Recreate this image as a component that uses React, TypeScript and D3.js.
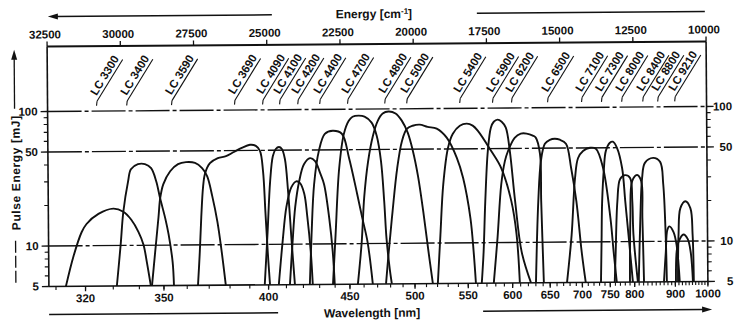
import React from "react";
import * as d3 from "d3";

// Axis ticks
const energyTicks = [32500, 30000, 27500, 25000, 22500, 20000, 17500, 15000, 12500, 10000];
const wavelengthLabels = [320, 350, 400, 450, 500, 550, 600, 650, 700, 750, 800, 900, 1000];
const wavelengthMinor = d3.range(310, 1001, 10);
const pulseLabels = [5, 10, 50, 100];
const pulseMinor = [6, 7, 8, 9, 20, 30, 40, 60, 70, 80, 90];
const gridLevels = [10, 50, 100];

// Dye names and the wavenumber (cm^-1) where each name sits
const dyeNames = [
  "LC 3300", "LC 3400", "LC 3590", "LC 3690", "LC 4090", "LC 4100", "LC 4200",
  "LC 4400", "LC 4700", "LC 4800", "LC 5000", "LC 5400", "LC 5900", "LC 6200",
  "LC 6500", "LC 7100", "LC 7300", "LC 8000", "LC 8400", "LC 8800", "LC 9210",
];
const dyeLabelWavenumbers = [
  30830, 29800, 28270, 26120, 25160, 24580, 23960, 23210, 22260, 20990, 20240,
  18430, 17310, 16660, 15430, 14270, 13590, 12900, 12180, 11670, 11090,
];

// Tuning curves: [wavenumber cm^-1, pulse energy mJ]
const lc3300 = [[31920, 5], [31650, 8.4], [31370, 12.6], [31200, 14.5], [30790, 17.2], [30280, 18.8], [29940, 17.8], [29670, 15.5], [29430, 12.6], [29260, 10.1], [29150, 7.5], [29020, 5]];
const lc3400 = [[30180, 5], [30040, 10.1], [29940, 17.8], [29770, 29.9], [29670, 36.8], [29430, 40.1], [29190, 40.1], [28980, 37.4], [28810, 29.9], [28680, 22.3], [28510, 15.8], [28400, 12.0], [28270, 7.5], [28230, 5]];
const lc3590 = [[28980, 5], [28880, 8.2], [28740, 16.2], [28680, 22.2], [28570, 28.3], [28330, 35.4], [28060, 39.9], [27790, 41.3], [27480, 40.7], [27240, 37.2], [27070, 32.4], [26900, 23.0], [26730, 14.8], [26590, 8.8], [26460, 5]];
const lc3690 = [[27410, 5], [27340, 8.8], [27280, 16.1], [27210, 27.1], [27140, 33.9], [26970, 40.4], [26700, 44.0], [26420, 45.5], [26150, 48.8], [25880, 52.3], [25600, 55.1], [25400, 54.1], [25260, 49.6], [25160, 35.1], [25090, 17.6], [25020, 8.8], [24950, 5]];
const lc4090 = [[25130, 5], [25020, 12.3], [24920, 29.4], [24820, 45.3], [24720, 51.1], [24610, 52.9], [24510, 51.1], [24410, 43.0], [24310, 24.7], [24200, 10.4], [24100, 5]];
const lc4100 = [[24650, 5], [24510, 10.4], [24370, 19.0], [24200, 26.4], [24030, 29.3], [23900, 28.4], [23760, 23.8], [23660, 16.0], [23550, 8.7], [23490, 5]];
const lc4200 = [[24270, 5], [24170, 10.3], [24070, 18.9], [23930, 29.2], [23760, 39.2], [23550, 43.5], [23380, 41.3], [23210, 33.6], [23080, 27.8], [22910, 15.4], [22800, 8.7], [22740, 5]];
const lc4400 = [[23590, 5], [23520, 11.6], [23420, 27.7], [23250, 49.0], [23040, 65.8], [22770, 69.3], [22460, 65.8], [22220, 43.4], [21950, 23.3], [21780, 15.4], [21610, 10.3], [21440, 5]];
const lc4700 = [[22800, 5], [22700, 11.6], [22560, 36.3], [22390, 65.6], [22220, 82.0], [22090, 87.9], [21880, 89.5], [21680, 87.9], [21440, 79.3], [21270, 63.3], [21130, 41.0], [21030, 20.5], [20960, 10.8], [20860, 6.5], [20790, 5]];
const lc4800 = [[21950, 5], [21810, 10.2], [21710, 22.4], [21570, 40.9], [21400, 63.1], [21230, 81.7], [21060, 92.4], [20860, 95.6], [20620, 92.4], [20410, 81.7], [20210, 66.4], [20040, 48.7], [19870, 31.5], [19700, 17.2], [19530, 8.6], [19390, 5]];
const lc5000 = [[20990, 5], [20890, 8.6], [20750, 17.1], [20580, 36.0], [20410, 57.5], [20240, 70.9], [20040, 74.7], [19800, 76.1], [19530, 73.2], [19220, 70.9], [18880, 60.7], [18540, 42.9], [18330, 30.3], [18090, 15.2], [17990, 8.6], [17920, 5]];
const lc5400 = [[19220, 5], [19120, 11.5], [19010, 27.3], [18840, 50.8], [18670, 64.8], [18430, 74.3], [18190, 76.9], [17990, 74.3], [17820, 68.1], [17370, 48.2], [17030, 35.9], [16690, 20.3], [16520, 11.5], [16420, 5]];
const lc5900 = [[17720, 5], [17650, 8.5], [17580, 20.2], [17480, 48.0], [17370, 71.5], [17270, 79.2], [17140, 82.1], [17000, 79.2], [16860, 71.5], [16730, 48.0], [16560, 20.2], [16350, 8.5], [16040, 5]];
const lc6200 = [[17310, 5], [17170, 10.9], [17030, 27.1], [16900, 40.3], [16790, 47.9], [16560, 60.0], [16350, 64.4], [16150, 64.4], [15940, 62.1], [15840, 60.0], [15700, 45.5], [15670, 20.1], [15600, 5]];
const lc6500 = [[15870, 5], [15770, 20.1], [15670, 40.1], [15530, 53.9], [15360, 57.7], [15190, 58.7], [15020, 57.7], [14810, 53.9], [14640, 35.5], [14470, 20.1], [14300, 8.4], [14170, 5]];
const lc7100 = [[14810, 5], [14640, 11.3], [14510, 29.8], [14400, 42.1], [14230, 47.5], [13990, 50.1], [13790, 49.2], [13550, 35.4], [13310, 14.9], [13210, 8.4], [13110, 5]];
const lc7300 = [[13650, 5], [13620, 10.0], [13590, 19.9], [13520, 35.3], [13450, 47.4], [13310, 54.5], [13210, 55.4], [13070, 49.9], [12900, 35.3], [12800, 19.9], [12700, 11.3], [12560, 5]];
const lc8000a = [[13180, 5], [13140, 8.4], [13070, 19.9], [12970, 29.2], [12800, 31.2], [12630, 29.7], [12560, 19.9], [12530, 11.3], [12390, 5]];
const lc8000b = [[12660, 5], [12630, 14.9], [12560, 28.1], [12390, 31.2], [12250, 28.1], [12220, 14.9], [12180, 5]];
const lc8400 = [[12360, 5], [12290, 14.8], [12220, 29.6], [12120, 38.4], [11840, 41.8], [11600, 39.0], [11500, 26.7], [11430, 11.2], [11400, 5]];
const lc8800a = [[11500, 5], [11430, 8.3], [11370, 12.2], [11300, 12.9], [11160, 11.7], [11060, 9.4], [10960, 5]];
const lc8800b = [[11090, 5], [11060, 8.3], [10990, 9.9], [10820, 11.2], [10680, 10.4], [10580, 8.3], [10510, 5]];
const lc9210 = [[11020, 5], [10990, 11.2], [10920, 17.6], [10750, 19.8], [10580, 17.6], [10510, 11.2], [10480, 5]];

const tuningCurves = [
  lc3300, lc3400, lc3590, lc3690, lc4090, lc4100, lc4200, lc4400, lc4700, lc4800,
  lc5000, lc5400, lc5900, lc6200, lc6500, lc7100, lc7300, lc8000a, lc8000b, lc8400,
  lc8800a, lc8800b, lc9210,
];

const W = 735;
const H = 324;
const X0 = 48;
const X1 = 707;
const YTOP = 44;
const YBOT = 284;
const Y100 = 109;
const FONT = "'Liberation Sans', Arial, Helvetica, sans-serif";
const INK = "#111";

const x = d3.scaleLinear().domain([32500, 10000]).range([X0, X1]);
const y = d3.scaleLog().domain([5, 100]).range([YBOT, Y100]);
const xNm = (nm: number) => x(1e7 / nm);

const line = d3
  .line<number[]>()
  .x((d) => x(d[0]))
  .y((d) => y(d[1]))
  .curve(d3.curveCatmullRom.alpha(0.5));

const LABEL_ANGLE = -58;
const LABEL_Y = 94;
const LABEL_LEN = 45;

function DyeLabel({ name, wn }: { name: string; wn: number }) {
  const ax = x(wn);
  const a = (LABEL_ANGLE * Math.PI) / 180;
  const c = Math.cos(a);
  const s = Math.sin(a);
  // underline start in screen coordinates (local -4, 3)
  const lx = -4, ly = 3.2;
  const sx = ax + lx * c - ly * s;
  const sy = LABEL_Y + lx * s + ly * c;
  return (
    <g>
      <g transform={`translate(${ax},${LABEL_Y}) rotate(${LABEL_ANGLE})`}>
        <text
          x={0}
          y={0}
          fontFamily={FONT}
          fontWeight={700}
          fontSize={11.5}
          fill={INK}
        >
          {name}
        </text>
        <line x1={lx} y1={ly} x2={LABEL_LEN} y2={ly} stroke={INK} strokeWidth={1.1} />
      </g>
      <line x1={sx} y1={sy} x2={sx - 0.5} y2={sy + 4.5} stroke={INK} strokeWidth={1.1} />
    </g>
  );
}

export default function App() {
  const labelStyle = { fontFamily: FONT, fontWeight: 700, fill: INK } as const;
  return (
    <svg
      width={W}
      height={H}
      viewBox={`0 0 ${W} ${H}`}
      style={{ position: "absolute", left: 0, top: 0, background: "#fff" }}
    >
      <defs>
        <clipPath id="plot-area">
          <rect x={X0} y={YTOP} width={X1 - X0} height={YBOT - YTOP} />
        </clipPath>
      </defs>
      <rect width={W} height={H} fill="#fff" />
      <g transform="rotate(-0.435 377 165)">
        {/* grid lines */}
        {gridLevels.map((v) => (
          <line
            key={`g${v}`}
            x1={X0}
            x2={X1}
            y1={y(v)}
            y2={y(v)}
            stroke={INK}
            strokeWidth={1.4}
            strokeDasharray="34 3 4 3"
          />
        ))}

        {/* frame */}
        <line x1={X0} x2={X1} y1={YTOP} y2={YTOP} stroke={INK} strokeWidth={2} />
        <line x1={X0} x2={X1} y1={YBOT} y2={YBOT} stroke={INK} strokeWidth={1.6} />
        <line x1={X0} x2={X0} y1={YTOP} y2={YBOT} stroke={INK} strokeWidth={1.6} />
        <line x1={X1} x2={X1} y1={YTOP} y2={YBOT} stroke={INK} strokeWidth={1.6} />

        {/* top energy axis */}
        {energyTicks.map((e) => (
          <g key={`e${e}`}>
            <line x1={x(e)} x2={x(e)} y1={YTOP} y2={YTOP - 5} stroke={INK} strokeWidth={1.3} />
            <text x={x(e) - 2} y={YTOP - 8} textAnchor="middle" fontSize={11.5} {...labelStyle}>
              {e}
            </text>
          </g>
        ))}

        {/* bottom wavelength axis */}
        {wavelengthMinor.map((nm) => (
          <line key={`m${nm}`} x1={xNm(nm)} x2={xNm(nm)} y1={YBOT} y2={YBOT + 3.5} stroke={INK} strokeWidth={1.1} />
        ))}
        {wavelengthLabels.map((nm) => (
          <g key={`w${nm}`}>
            <line x1={xNm(nm)} x2={xNm(nm)} y1={YBOT} y2={YBOT + 5} stroke={INK} strokeWidth={1.3} />
            <text x={xNm(nm)} y={YBOT + 16} textAnchor="middle" fontSize={11.5} {...labelStyle}>
              {nm}
            </text>
          </g>
        ))}

        {/* left and right pulse energy axes */}
        {pulseMinor.map((v) => (
          <g key={`p${v}`}>
            <line x1={X0 - 4} x2={X0} y1={y(v)} y2={y(v)} stroke={INK} strokeWidth={1.1} />
            <line x1={X1} x2={X1 + 4} y1={y(v)} y2={y(v)} stroke={INK} strokeWidth={1.1} />
          </g>
        ))}
        {pulseLabels.map((v) => (
          <g key={`P${v}`}>
            <line x1={X0 - 7} x2={X0} y1={y(v)} y2={y(v)} stroke={INK} strokeWidth={1.3} />
            <line x1={X1} x2={X1 + 7} y1={y(v)} y2={y(v)} stroke={INK} strokeWidth={1.3} />
            <text x={X0 - 10} y={y(v) + 4} textAnchor="end" fontSize={11.5} {...labelStyle}>
              {v}
            </text>
            <text x={X1 + 25.5} y={y(v) + 4} textAnchor="end" fontSize={11.5} {...labelStyle}>
              {v}
            </text>
          </g>
        ))}

        {/* tuning curves */}
        <g clipPath="url(#plot-area)">
          {tuningCurves.map((c, i) => (
            <path key={`c${i}`} d={line(c) || ""} fill="none" stroke={INK} strokeWidth={1.9} strokeLinejoin="round" />
          ))}
        </g>

        {/* dye names */}
        {dyeNames.map((n, i) => (
          <DyeLabel key={n} name={n} wn={dyeLabelWavenumbers[i]} />
        ))}

        {/* axis titles and direction arrows */}
        <text x={375} y={18} textAnchor="middle" fontSize={12} {...labelStyle}>
          Energy [cm
          <tspan dy={-4} fontSize={8}>-1</tspan>
          <tspan dy={4}>]</tspan>
        </text>
        <line x1={56} x2={273} y1={14} y2={14} stroke={INK} strokeWidth={1.5} />
        <path d="M49,14 L59,11 L59,17 Z" fill={INK} />
        <line x1={478} x2={706} y1={14} y2={14} stroke={INK} strokeWidth={1.5} />

        <text x={371} y={317} textAnchor="middle" fontSize={12} {...labelStyle}>
          Wavelength [nm]
        </text>
        <line x1={48} x2={277} y1={312} y2={312} stroke={INK} strokeWidth={1.5} />
        <line x1={482} x2={702} y1={312} y2={312} stroke={INK} strokeWidth={1.5} />
        <path d="M711,312 L701,309 L701,315 Z" fill={INK} />

        <text
          transform="translate(20,170) rotate(-90)"
          textAnchor="middle"
          fontSize={12}
          letterSpacing={0.6}
          {...labelStyle}
        >
          Pulse Energy [mJ]
        </text>
        <line x1={15} x2={15} y1={55} y2={106} stroke={INK} strokeWidth={1.3} />
        <path d="M15,47 L12,57 L18,57 Z" fill={INK} />
        <line x1={15} x2={15} y1={238} y2={282} stroke={INK} strokeWidth={1.3} strokeDasharray="12 3" />
      </g>
    </svg>
  );
}
